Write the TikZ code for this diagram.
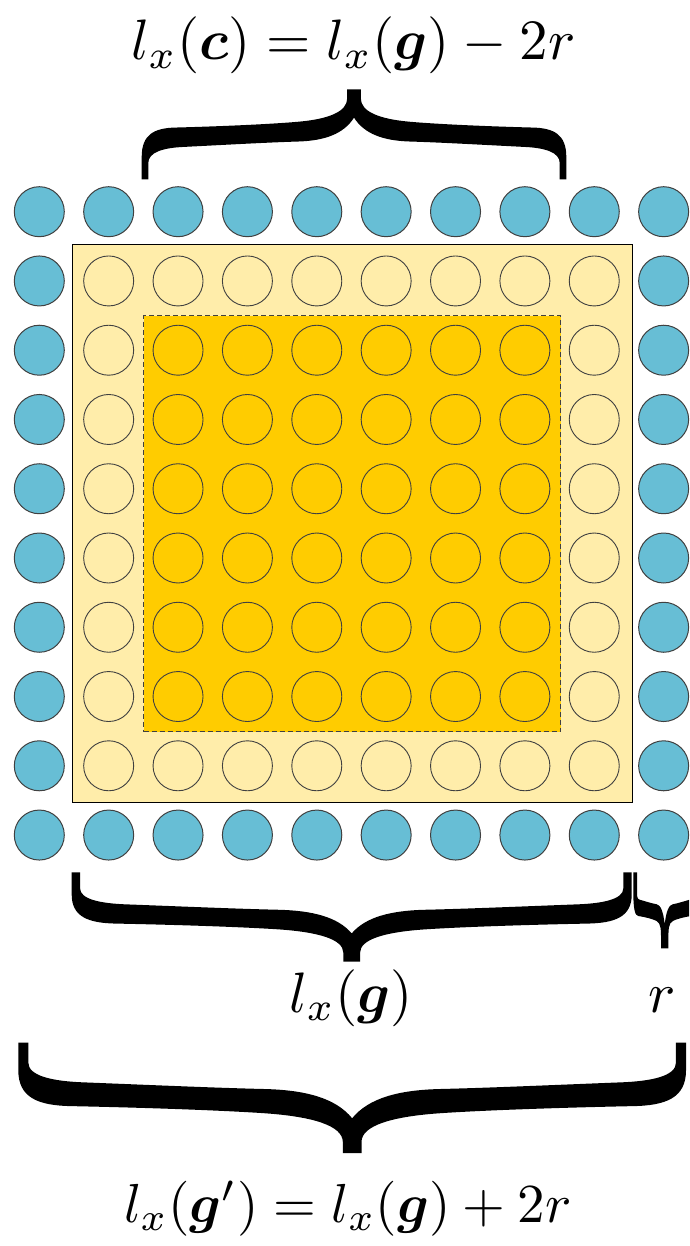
\documentclass[tikz,border=0pt]{standalone}
\usepackage{amsmath}
\usepackage{graphicx}
\definecolor{bluefill}{HTML}{67BED5}
\definecolor{lightfill}{HTML}{FFEDAA}
\definecolor{darkfill}{HTML}{FFCC00}
\definecolor{ringline}{HTML}{404040}
% brace: xL, xR, yTip, yPoint, tip width (fraction of half width), neck half width (fraction), name
\newcommand\mybrace[7]{%
\begin{scope}[shift={(#1,#3)}, xscale={(#2-#1)/2}, yscale={(#4-#3)}]
\pgfmathsetmacro\bt{#5}\pgfmathsetmacro\bn{#6}
\pgfmathsetmacro\bta{2-\bt}\pgfmathsetmacro\bna{1-\bn}\pgfmathsetmacro\bnb{1+\bn}
\fill[black] (0,0) -- (0,0.25) .. controls (0,0.50) and (0.06,0.57) .. (0.16,0.575)
 .. controls (0.40,0.59) and (0.62,0.615) .. (0.74,0.64)
 .. controls (0.88,0.67) and (\bna,0.75) .. (\bna,0.90) -- (\bna,1) -- (\bnb,1) -- (\bnb,0.90)
 .. controls (\bnb,0.75) and (1.12,0.67) .. (1.26,0.64)
 .. controls (1.38,0.615) and (1.60,0.59) .. (1.84,0.575)
 .. controls (1.94,0.57) and (2,0.50) .. (2,0.25) -- (2,0) -- (\bta,0) -- (\bta,0.18)
 .. controls (\bta,0.30) and (1.90,0.35) .. (1.80,0.36)
 .. controls (1.55,0.39) and (1.40,0.41) .. (1.26,0.42)
 .. controls (1.14,0.43) and (1.05,0.50) .. (1,0.685)
 .. controls (0.95,0.50) and (0.86,0.43) .. (0.74,0.42)
 .. controls (0.60,0.41) and (0.45,0.39) .. (0.20,0.36)
 .. controls (0.10,0.35) and (\bt,0.30) .. (\bt,0.18) -- (\bt,0) -- cycle;
\coordinate (#7) at (1,1);
\end{scope}}
\begin{document}
\begin{tikzpicture}[x=1pt,y=-1pt,
  bluedot/.style={circle, inner sep=0pt, minimum size=50pt, fill=bluefill, draw=ringline, line width=1pt},
  lightdot/.style={circle, inner sep=0pt, minimum size=50pt, draw=ringline, line width=0.9pt},
  darkdot/.style={circle, inner sep=0pt, minimum size=50pt, draw=ringline, line width=0.9pt},
  eq/.style={inner sep=0pt, anchor=base}]
\useasboundingbox (0,0) rectangle (689,1246);
\begin{scope}
\clip (0,0) rectangle (689,1246);
% regions
\node[draw=black, line width=1.5pt, fill=lightfill, inner sep=0pt, minimum width=560pt, minimum height=557.7pt, anchor=north west] (outer) at (71.7,244) {};
\node[draw=ringline, line width=1.2pt, dash pattern=on 5pt off 3pt, fill=darkfill, inner sep=0pt, minimum width=417pt, minimum height=416pt, anchor=north west] (inner) at (143,315) {};
% circles
\foreach \i in {0,...,9}{
  \foreach \j in {0,...,9}{
    \pgfmathsetmacro\cx{39.3+69.37*\i}
    \pgfmathsetmacro\cy{211.7+69.26*\j}
    \pgfmathtruncatemacro\ring{min(min(\i,9-\i),min(\j,9-\j))}
    \ifnum\ring=0
      \node[bluedot] (c-\i-\j) at (\cx,\cy) {};
    \else\ifnum\ring=1
      \node[lightdot] (c-\i-\j) at (\cx,\cy) {};
    \else
      \node[darkdot] (c-\i-\j) at (\cx,\cy) {};
    \fi\fi
  }
}
% braces
\mybrace{141.7}{566.3}{179.3}{89.3}{0.031}{0.032}{btop}
\mybrace{71.7}{631.7}{872.3}{961.5}{0.030}{0.030}{bmid}
\mybrace{633.3}{696.1}{872.3}{948.3}{0.12}{0.117}{bsmall}
\mybrace{18.3}{686}{1042.7}{1153}{0.030}{0.028}{bbig}
\end{scope}
% labels
\node[eq] (ttop) at (353.5,60) {\scalebox{5.7}{$l_x(\boldsymbol{c}) = l_x(\boldsymbol{g}) - 2r$}};
\node[eq] (tmid) at (351.5,1012) {\scalebox{5.7}{$l_x(\boldsymbol{g})$}};
\node[eq] (tr) at (662.5,1012) {\scalebox{5.7}{$r$}};
\node[eq] (tbot) at (348,1222) {\scalebox{5.5}{$l_x(\boldsymbol{g}') = l_x(\boldsymbol{g}) + 2r$}};
\end{tikzpicture}
\end{document}
